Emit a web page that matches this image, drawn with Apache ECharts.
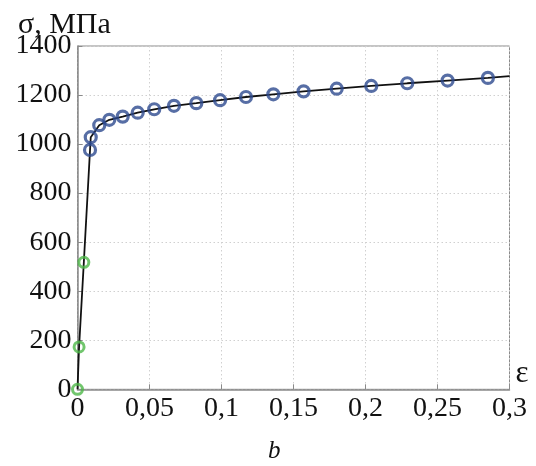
<!DOCTYPE html>
<html>
<head>
<meta charset="utf-8">
<script src="https://cdn.jsdelivr.net/npm/echarts@6/dist/echarts.min.js"></script>
<style>html,body{margin:0;padding:0;background:#fff}#c{width:536px;height:466px}</style>
</head>
<body>
<div id="c"></div>
<script>
// Elastic (green) points
var elasticStrain = [0, 0.0011, 0.0044];
var elasticStress = [0, 173, 518];
// Plastic (blue) points
var plasticStrain = [0.0087, 0.0092, 0.0151, 0.0221, 0.0314, 0.0418, 0.0533, 0.067, 0.0825, 0.099, 0.117, 0.136, 0.157, 0.180, 0.204, 0.229, 0.257, 0.285];
var plasticStress = [976, 1028, 1077, 1099, 1112, 1128, 1142, 1156, 1167, 1179, 1192, 1203, 1215, 1226, 1237, 1248, 1259, 1270];
// Fitted curve end (extends to the axis edge)
var curveEndStrain = [0.3];
var curveEndStress = [1277];
// Axis ticks
var xTicks = [0, 0.05, 0.1, 0.15, 0.2, 0.25, 0.3];
var yTicks = [0, 200, 400, 600, 800, 1000, 1200, 1400];

function zip(a, b) { return a.map(function (v, i) { return [v, b[i]]; }); }
var curveX = elasticStrain.concat(plasticStrain, curveEndStrain);
var curveY = elasticStress.concat(plasticStress, curveEndStress);

var serif = 'Liberation Serif';
var chart = echarts.init(document.getElementById('c'), null, { renderer: 'canvas' });
chart.setOption({
  animation: false,
  backgroundColor: '#fff',
  title: [
    { text: 'σ, МПа', left: 13, top: 5, textStyle: { fontFamily: serif, fontSize: 30, fontWeight: 'normal', color: '#111' } },
    { text: 'b', left: 263, top: 434, textStyle: { fontFamily: serif, fontSize: 25, fontStyle: 'italic', fontWeight: 'normal', color: '#111' } }
  ],
  grid: { left: 77.5, right: 26.5, top: 46, bottom: 76.7, show: true, borderColor: '#8a8a8a', borderWidth: 1, backgroundColor: 'transparent' },
  xAxis: {
    type: 'value', min: xTicks[0], max: xTicks[xTicks.length - 1], interval: 0.05,
    name: 'ε', nameLocation: 'end', nameGap: 6,
    nameTextStyle: { fontFamily: serif, fontSize: 31, color: '#111', verticalAlign: 'bottom', padding: [0, 0, 0, 0] },
    axisLine: { show: true, lineStyle: { color: '#8a8a8a', width: 1.5 } },
    axisTick: { show: true, inside: true, length: 5, lineStyle: { color: '#8a8a8a' } },
    axisLabel: { fontFamily: serif, fontSize: 28, color: '#111', margin: 5,
      formatter: function (v) { return String(+v.toFixed(2)).replace('.', ','); } },
    splitLine: { show: true, lineStyle: { color: '#d0d0d0', type: [1.5, 2.5], width: 1 } }
  },
  yAxis: {
    type: 'value', min: yTicks[0], max: yTicks[yTicks.length - 1], interval: 200,
    axisLine: { show: true, lineStyle: { color: '#8a8a8a', width: 1.5 } },
    axisTick: { show: true, inside: true, length: 5, lineStyle: { color: '#8a8a8a' } },
    axisLabel: { fontFamily: serif, fontSize: 28, color: '#111', margin: 6,
      formatter: function (v) { return String(v); } },
    splitLine: { show: true, lineStyle: { color: '#d0d0d0', type: [1.5, 2.5], width: 1 } }
  },
  series: [
    { type: 'line', data: zip(curveX, curveY), showSymbol: false, symbol: 'none',
      lineStyle: { color: '#111', width: 1.8 }, z: 2 },
    { type: 'scatter', data: zip(plasticStrain, plasticStress), symbol: 'circle', symbolSize: 11,
      itemStyle: { color: 'rgba(255,255,255,0)', borderColor: '#2d4a8e', borderWidth: 3.2 }, z: 3 },
    { type: 'scatter', data: zip(elasticStrain, elasticStress), symbol: 'circle', symbolSize: 10,
      itemStyle: { color: 'rgba(255,255,255,0)', borderColor: '#4db848', borderWidth: 3 }, z: 3 }
  ]
});
</script>
</body>
</html>
